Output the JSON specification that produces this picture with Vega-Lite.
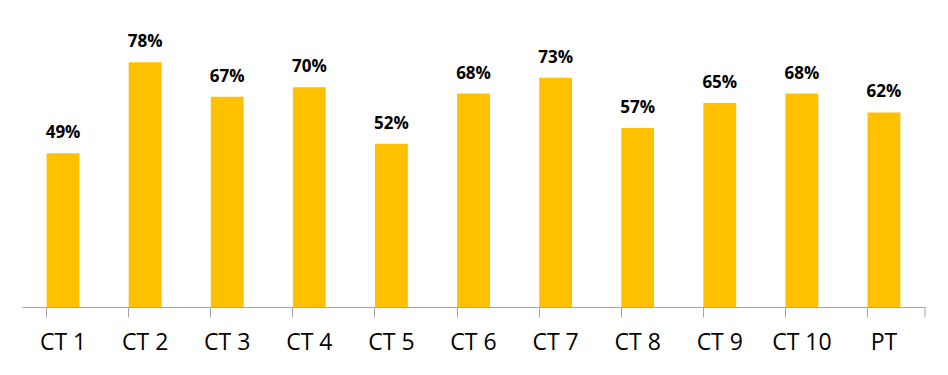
{
  "$schema": "https://vega.github.io/schema/vega-lite/v6.json",
  "width": 903,
  "height": 307,
  "autosize": "none",
  "padding": {"left": 22, "top": 0, "right": 23, "bottom": 68},
  "background": "white",
  "config": {"view": {"stroke": null}, "font": "Open Sans"},
  "data": {"values": [
    {"cat": "CT 1", "v": 0.49},
    {"cat": "CT 2", "v": 0.78},
    {"cat": "CT 3", "v": 0.67},
    {"cat": "CT 4", "v": 0.70},
    {"cat": "CT 5", "v": 0.52},
    {"cat": "CT 6", "v": 0.68},
    {"cat": "CT 7", "v": 0.73},
    {"cat": "CT 8", "v": 0.57},
    {"cat": "CT 9", "v": 0.65},
    {"cat": "CT 10", "v": 0.68},
    {"cat": "PT", "v": 0.62}
  ]},
  "encoding": {
    "x": {"field": "cat", "type": "nominal", "sort": null,
      "scale": {"paddingInner": 0.6, "paddingOuter": 0.3},
      "axis": {"title": null, "labelAngle": 0, "labelFontSize": 23, "labelColor": "#000000",
        "labelFont": "Open Sans", "labelPadding": 14, "ticks": true, "bandPosition": 0, "tickSize": 10, "tickWidth": 1,
        "tickColor": "#A6A6A6", "tickOpacity": 1, "domainColor": "#A6A6A6", "domainWidth": 1, "labelBaseline": "top"}},
    "y": {"field": "v", "type": "quantitative", "scale": {"domain": [0, 0.978], "nice": false}, "axis": null}
  },
  "layer": [
    {"mark": {"type": "bar", "color": "#FFC000"}},
    {"mark": {"type": "text", "dy": -15, "baseline": "alphabetic", "fontSize": 17, "fontWeight": "bold", "color": "#000000", "font": "Open Sans"},
      "encoding": {"text": {"field": "v", "type": "quantitative", "format": ".0%"}}},
    {"transform": [{"filter": "datum.cat === 'PT'"}],
      "mark": {"type": "rule", "color": "#A6A6A6", "strokeWidth": 1, "xOffset": 41.05},
      "encoding": {
        "y": {"datum": 0},
        "y2": {"datum": -0.0318}
      }}
  ]
}
